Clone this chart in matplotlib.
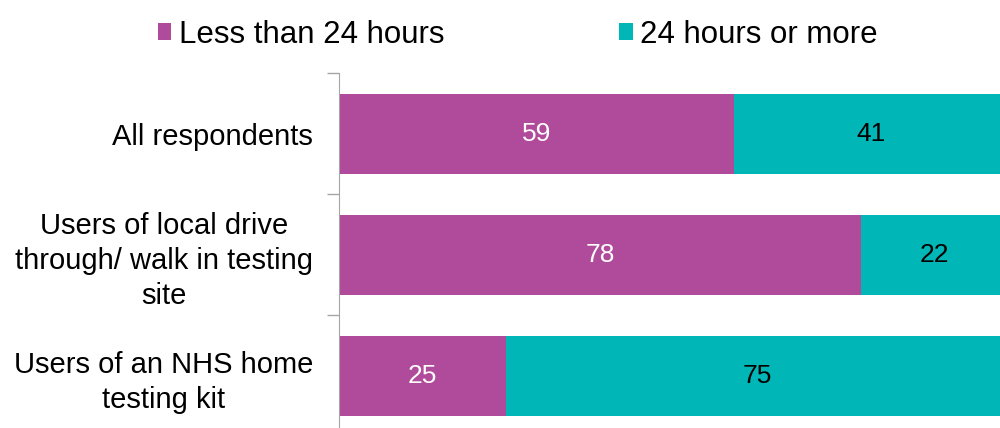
import numpy as np
import matplotlib.pyplot as plt

plt.rcParams['font.family'] = ['Liberation Sans', 'DejaVu Sans']

groups = ["All respondents",
          "Users of local drive\nthrough/ walk in testing\nsite",
          "Users of an NHS home\ntesting kit"]
less_24 = [59, 78, 25]
more_24 = [41, 22, 75]
series_names = ["Less than 24 hours", "24 hours or more"]

pink = "#B04A9A"
teal = "#00B6B6"

fig = plt.figure(figsize=(10, 4.28), dpi=100)
ax = fig.add_axes([0.339, -0.019, 0.669, 0.848])

y = np.arange(len(groups))
b1 = ax.barh(y, less_24, height=0.66, color=pink, label=series_names[0])
b2 = ax.barh(y, more_24, left=less_24, height=0.66, color=teal, label=series_names[1])

for i in range(len(groups)):
    ax.text(less_24[i] / 2, y[i], str(less_24[i]), ha='center', va='center',
            color='white', fontsize=19)
    ax.text(less_24[i] + more_24[i] / 2, y[i], str(more_24[i]), ha='center',
            va='center', color='black', fontsize=19)

ax.set_xlim(0, 100)
ax.set_ylim(len(groups) - 0.5, -0.5)

# tick marks between categories, labels at category centres
ax.set_yticks(np.arange(-0.5, len(groups), 1.0))
ax.set_yticklabels([])
ax.tick_params(axis='y', which='major', length=9, color='#A6A6A6', width=1)
ax.set_yticks(y, minor=True)
ax.set_yticklabels(groups, minor=True, fontsize=21, ma='center', linespacing=1.32)
ax.tick_params(axis='y', which='minor', length=0, pad=18.5)

ax.set_xticks([])
for side in ['top', 'right', 'bottom']:
    ax.spines[side].set_visible(False)
ax.spines['left'].set_color('#A6A6A6')

fig.legend(handles=[b1, b2], labels=series_names, loc='upper center',
           bbox_to_anchor=(0.518, 1.02), ncol=2, frameon=False, fontsize=22.5,
           handlelength=0.42, handleheight=0.42, handletextpad=0.25,
           columnspacing=5.6)

fig.savefig("out.png", dpi=100)
